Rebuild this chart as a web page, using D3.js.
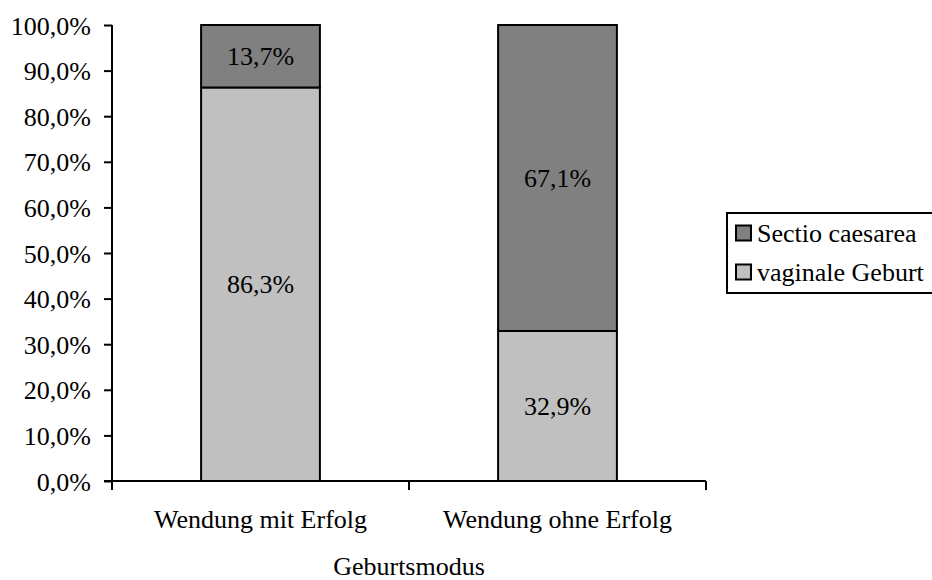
<!DOCTYPE html>
<html>
<head>
<meta charset="utf-8">
<script src="https://cdn.jsdelivr.net/npm/d3@7"></script>
<style>
  html, body { margin: 0; padding: 0; background: #fff; }
  svg { display: block; }
</style>
</head>
<body>
<svg id="chart" width="932" height="580"></svg>
<script>
// Geburtsmodus nach äußerer Wendung (Anteile in %)
const categories = ["Wendung mit Erfolg", "Wendung ohne Erfolg"];
const vaginaleGeburt = [86.3, 32.9];
const sectioCaesarea = [13.7, 67.1];
const seriesNames = ["vaginale Geburt", "Sectio caesarea"];
const seriesColors = ["#c0c0c0", "#808080"];
const yTicks = [0, 10, 20, 30, 40, 50, 60, 70, 80, 90, 100];
const xTitle = "Geburtsmodus";

const de = d3.formatLocale({ decimal: ",", thousands: ".", grouping: [3], currency: ["", " €"] });
const pct = v => de.format(".1f")(v) + "%";

const FONT = '"Liberation Serif"';
const FS = "26px";
const styleText = sel => sel.style("font-family", FONT).style("font-size", FS).style("fill", "#000");

const svg = d3.select("#chart");

const rows = categories.map((c, i) => ({ cat: c, v0: vaginaleGeburt[i], v1: sectioCaesarea[i] }));
const stacked = d3.stack().keys(["v0", "v1"])(rows);

const x = d3.scaleBand().domain(categories).range([112, 706]).paddingInner(0).paddingOuter(0);
const y = d3.scaleLinear().domain([0, 100]).range([481, 25]);
const barW = x.bandwidth() * 0.4;

// bars with value labels
stacked.forEach((layer, li) => {
  const g = svg.append("g");
  g.selectAll("rect").data(layer).join("rect")
    .attr("x", d => x(d.data.cat) + (x.bandwidth() - barW) / 2)
    .attr("y", d => y(d[1]))
    .attr("width", barW)
    .attr("height", d => y(d[0]) - y(d[1]))
    .attr("fill", seriesColors[li])
    .attr("stroke", "#000")
    .attr("stroke-width", 2);
  g.selectAll("text").data(layer).join("text")
    .attr("x", d => x(d.data.cat) + x.bandwidth() / 2)
    .attr("y", d => (y(d[0]) + y(d[1])) / 2)
    .attr("dy", "0.35em")
    .attr("text-anchor", "middle")
    .call(styleText)
    .text(d => pct(d[1] - d[0]));
});

// y axis
const yAxis = svg.append("g").attr("transform", "translate(112,0)")
  .call(d3.axisLeft(y).tickValues(yTicks).tickSize(8).tickPadding(13).tickFormat(pct));
yAxis.selectAll("path").attr("stroke", "#000").attr("stroke-width", 2).attr("d", "M0,25V481");
yAxis.selectAll("line").attr("stroke", "#000").attr("stroke-width", 2);
yAxis.selectAll("text").call(styleText).attr("dy", "0.35em");

// x axis: ticks at category boundaries, labels centred
const xa = svg.append("g");
xa.append("line").attr("x1", 104).attr("x2", 706).attr("y1", y(0)).attr("y2", y(0))
  .attr("stroke", "#000").attr("stroke-width", 2);
const bounds = categories.map(c => x(c)).concat([x.range()[1]]);
xa.selectAll("line.tick").data(bounds).join("line").attr("class", "tick")
  .attr("x1", d => d).attr("x2", d => d).attr("y1", y(0)).attr("y2", y(0) + 9)
  .attr("stroke", "#000").attr("stroke-width", 2);
xa.selectAll("text").data(categories).join("text")
  .attr("x", d => x(d) + x.bandwidth() / 2)
  .attr("y", 528)
  .attr("text-anchor", "middle")
  .call(styleText)
  .text(d => d);

svg.append("text")
  .attr("x", (x.range()[0] + x.range()[1]) / 2)
  .attr("y", 575)
  .attr("text-anchor", "middle")
  .call(styleText)
  .text(xTitle);

// legend (Sectio caesarea on top)
const legend = svg.append("g");
legend.append("rect").attr("x", 727).attr("y", 213).attr("width", 230).attr("height", 80)
  .attr("fill", "#fff").attr("stroke", "#000").attr("stroke-width", 2);
[1, 0].forEach((si, k) => {
  const cy = 233 + k * 39;
  legend.append("rect").attr("x", 736).attr("y", cy - 7.5).attr("width", 15).attr("height", 15)
    .attr("fill", seriesColors[si]).attr("stroke", "#000").attr("stroke-width", 2);
  legend.append("text").attr("x", 757).attr("y", cy).attr("dy", "0.35em")
    .call(styleText).text(seriesNames[si]);
});
</script>
</body>
</html>
